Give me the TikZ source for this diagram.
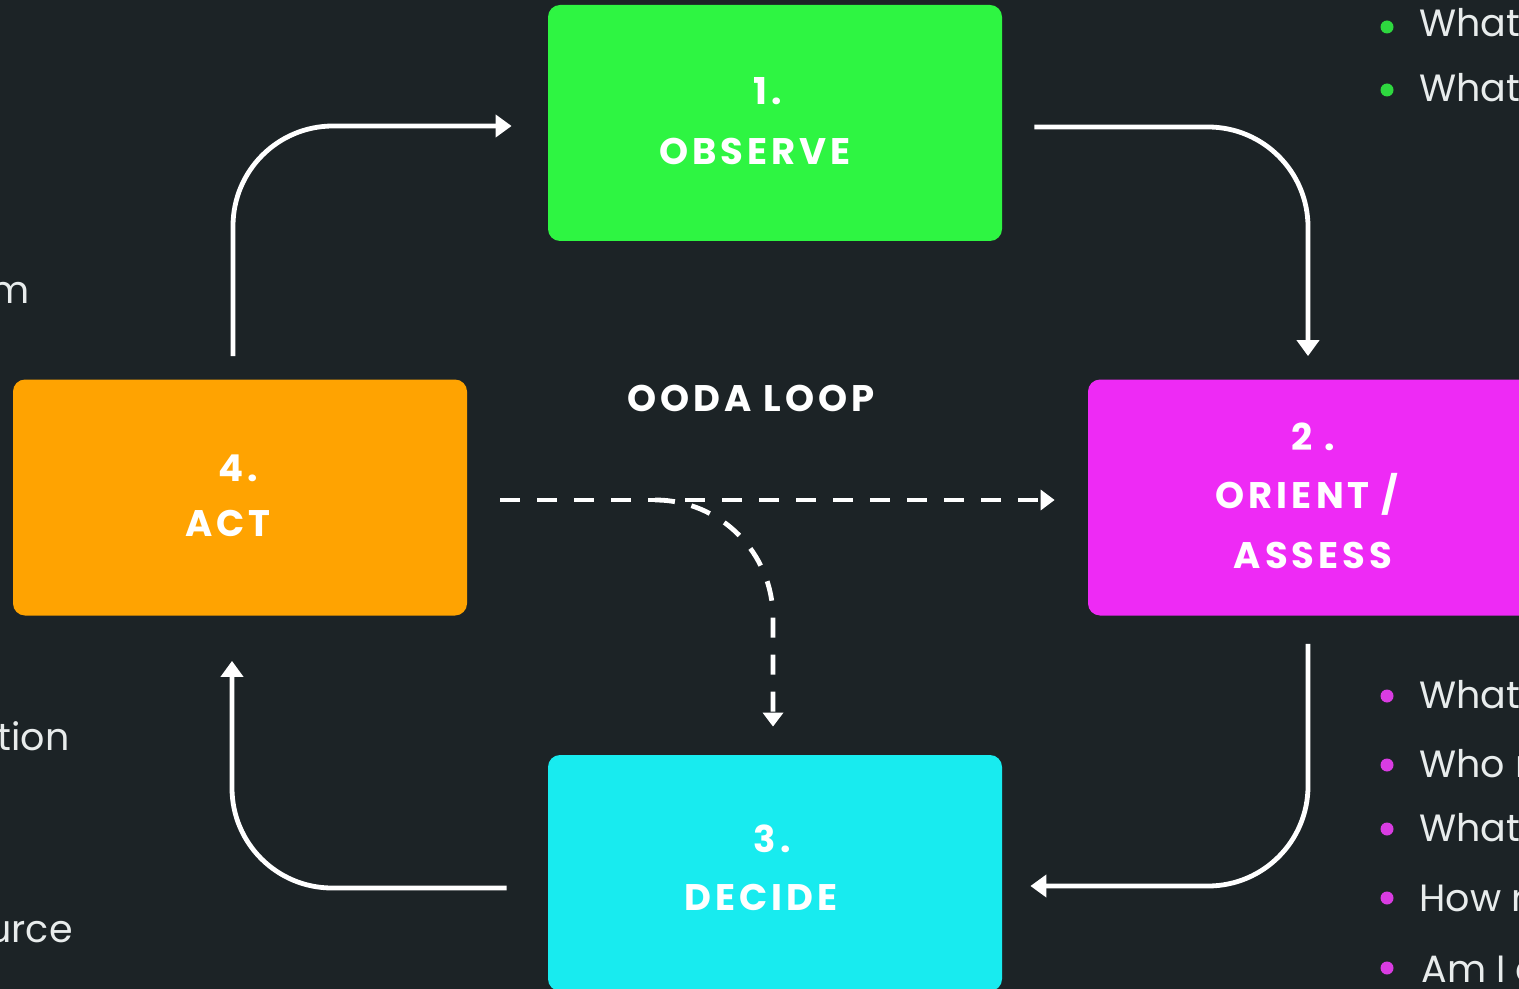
\documentclass[tikz,border=0pt]{standalone}
\usepackage{fontspec}
\setmainfont{Poppins}
\usetikzlibrary{arrows.meta,calc}
\definecolor{bg}{HTML}{1C2326}
\definecolor{cgreen}{HTML}{2EF542}
\definecolor{corange}{HTML}{FFA301}
\definecolor{cmagenta}{HTML}{EE2AF5}
\definecolor{ccyan}{HTML}{18EBEF}
\definecolor{dotgreen}{HTML}{2ED83F}
\definecolor{dotmag}{HTML}{D93CE2}
\definecolor{txt}{HTML}{E8ECEC}
\tikzset{
  stepbox/.style={rectangle,rounded corners=6pt,minimum width=227pt,minimum height=118pt,inner sep=0pt},
  lbl/.style={anchor=base,text=white,font=\fontsize{18.5}{22}\selectfont\bfseries\addfontfeatures{LetterSpace=11},inner sep=0pt},
  body/.style={anchor=base west,text=txt,font=\fontsize{19}{22}\selectfont,inner sep=0pt},
  lbody/.style={anchor=base east,text=txt,font=\fontsize{19}{22}\selectfont,inner sep=0pt},
  flow/.style={draw=white,line width=2.4pt,rounded corners=50pt,-{Triangle[length=8pt,width=11pt]}},
  dflow/.style={draw=white,line width=2.4pt,dash pattern=on 10pt off 8.5pt,-{Triangle[length=7pt,width=10pt]}},
  bdot/.style={circle,inner sep=0pt,minimum size=6.5pt}
}
\begin{document}
\begin{tikzpicture}[x=0.5pt,y=-0.5pt]
\useasboundingbox (0,0) rectangle (1519,989);
\clip (0,0) rectangle (1519,989);
\fill[bg] (0,0) rectangle (1519,989);
% boxes
\node[stepbox,fill=cgreen] (obs) at (775,123) {};
\node[stepbox,fill=corange] (act) at (240,497.5) {};
\node[stepbox,fill=cmagenta] (ori) at (1315,497.5) {};
\node[stepbox,fill=ccyan] (dec) at (775,873) {};
% labels
\node[lbl] (obs1) at (768,105) {1.};
\node[lbl] (obs2) at (755,165) {OBSERVE};
\node[lbl] (act1) at (238,481) {4.};
\node[lbl] (act2) at (228,536) {ACT};
\node[lbl] (ori1) at (1313,450) {2 .};
\node[lbl] (ori2) at (1307,508) {ORIENT /};
\node[lbl] (ori3) at (1313,568) {ASSESS};
\node[lbl] (dec1) at (772,852) {3.};
\node[lbl] (dec2) at (761,910) {DECIDE};
\node[lbl] (ooda) at (751,411) {OODA LOOP};
% loop connectors
\draw[flow] ($(act.north)+(-7,-23)$) |- ($(obs.west)+(-36,3)$);
\draw[flow] ($(obs.east)+(32,4)$) -| ($(ori.north)+(-7,-23)$);
\draw[flow] ($(ori.south)+(-7,28)$) |- ($(dec.east)+(28,13)$);
\draw[flow] ($(dec.west)+(-41,15)$) -| ($(act.south)+(-8,45)$);
% dashed connectors
\draw[dflow] ($(act.east)+(33,2.5)$) -- ($(ori.west)+(-33,2.5)$);
\coordinate (fork) at (655,500);
\draw[dflow,rounded corners=59pt] (fork) -| ($(dec.north)+(-2,-28)$);
% bullets top right
\node[bdot,fill=dotgreen] (g1) at (1387,27) {};
\node[bdot,fill=dotgreen] (g2) at (1387,90) {};
\node[body] (gt1) at (1419,37) {What};
\node[body] (gt2) at (1419,102) {What};
% bullets bottom right
\node[bdot,fill=dotmag] (m1) at (1387,696) {};
\node[bdot,fill=dotmag] (m2) at (1387,765) {};
\node[bdot,fill=dotmag] (m3) at (1387,829) {};
\node[bdot,fill=dotmag] (m4) at (1387,898) {};
\node[bdot,fill=dotmag] (m5) at (1387,968) {};
\node[body] (mt1) at (1419,708) {What};
\node[body] (mt2) at (1419,777) {Who r};
\node[body] (mt3) at (1419,841) {What};
\node[body] (mt4) at (1419,911) {How r};
\node[body] (mt5) at (1421,982) {Am I e};
% left edge texts
\node[lbody] (l1) at (30,304) {m};
\node[lbody] (l2) at (70,750) {ction};
\node[lbody] (l3) at (73,942) {urce};
\end{tikzpicture}
\end{document}
